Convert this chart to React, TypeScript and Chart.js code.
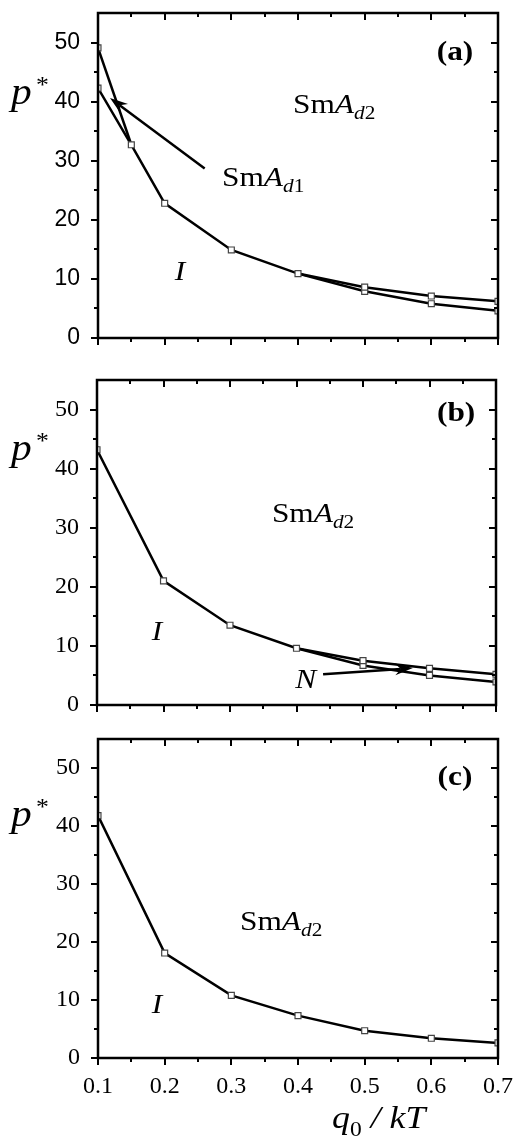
import React, { useEffect, useRef } from "react";
import { Chart, registerables } from "chart.js";

Chart.register(...registerables);

// Shared axis definitions
const xMin = 0.1;
const xMax = 0.7;
const yMin = 0;
const yMax = 55;
const xTickValues = [0.1, 0.2, 0.3, 0.4, 0.5, 0.6, 0.7];
const xTickLabels = ["0.1", "0.2", "0.3", "0.4", "0.5", "0.6", "0.7"];
const xMinorValues = [0.15, 0.25, 0.35, 0.45, 0.55, 0.65];
const yTickValues = [0, 10, 20, 30, 40, 50];
const yTickLabels = ["0", "10", "20", "30", "40", "50"];
const yMinorValues = [5, 15, 25, 35, 45];

// Panel (a): phase boundaries
const aMainX = [0.1, 0.15, 0.2, 0.3, 0.4, 0.5, 0.6, 0.7];
const aMainY = [42.3, 32.7, 22.8, 14.9, 10.9, 8.6, 7.1, 6.2];
const aUpperX = [0.1, 0.15];
const aUpperY = [49.1, 32.7];
const aLowerX = [0.4, 0.5, 0.6, 0.7];
const aLowerY = [10.9, 7.9, 5.8, 4.6];

// Panel (b): phase boundaries
const bMainX = [0.1, 0.2, 0.3, 0.4, 0.5, 0.6, 0.7];
const bMainY = [43.2, 21.0, 13.5, 9.6, 7.5, 6.2, 5.2];
const bLowerX = [0.4, 0.5, 0.6, 0.7];
const bLowerY = [9.6, 6.7, 5.0, 3.9];

// Panel (c): phase boundary
const cMainX = [0.1, 0.2, 0.3, 0.4, 0.5, 0.6, 0.7];
const cMainY = [41.8, 18.1, 10.8, 7.3, 4.7, 3.4, 2.6];

const W = 515;
const SERIF = "'Liberation Serif', 'Times New Roman', serif";
const SANS = "'Liberation Sans', Arial, sans-serif";
const SX = 1.12; // horizontal widening of the label lettering

type Series = { xs: number[]; ys: number[]; hidden: number[] };
type Note =
  | { kind: "tag"; text: string; x: number; y: number }
  | { kind: "phase"; sub: string; x: number; y: number }
  | { kind: "italic"; text: string; x: number; y: number }
  | { kind: "arrow"; x1: number; y1: number; x2: number; y2: number };

type PanelSpec = {
  top: number;
  height: number;
  area: { left: number; right: number; top: number; bottom: number };
  tickFamily: string;
  tickSize: number;
  showX: boolean;
  series: Series[];
  notes: Note[];
  yTitleAt: number;
};

function drawText(ctx: CanvasRenderingContext2D, text: string, x: number, y: number, font: string, align: CanvasTextAlign = "left", baseline: CanvasTextBaseline = "alphabetic") {
  ctx.save();
  ctx.font = font;
  ctx.textAlign = align;
  ctx.textBaseline = baseline;
  ctx.fillStyle = "#000";
  const w = ctx.measureText(text).width * SX;
  ctx.translate(x, y);
  ctx.scale(SX, 1);
  ctx.fillText(text, 0, 0);
  ctx.restore();
  return w;
}

function drawArrow(ctx: CanvasRenderingContext2D, x1: number, y1: number, x2: number, y2: number) {
  const a = Math.atan2(y2 - y1, x2 - x1);
  const c = Math.cos(a);
  const s = Math.sin(a);
  const len = 18;
  const half = 6;
  const notch = 12;
  ctx.save();
  ctx.strokeStyle = "#000";
  ctx.fillStyle = "#000";
  ctx.lineWidth = 2.5;
  ctx.beginPath();
  ctx.moveTo(x1, y1);
  ctx.lineTo(x2 - c * notch, y2 - s * notch);
  ctx.stroke();
  ctx.beginPath();
  ctx.moveTo(x2, y2);
  ctx.lineTo(x2 - c * len - s * half, y2 - s * len + c * half);
  ctx.lineTo(x2 - c * notch, y2 - s * notch);
  ctx.lineTo(x2 - c * len + s * half, y2 - s * len - c * half);
  ctx.closePath();
  ctx.fill();
  ctx.restore();
}

function makeDecor(spec: PanelSpec) {
  return {
    id: "frameAndNotes",
    afterDraw(chart: any) {
      const ctx: CanvasRenderingContext2D = chart.ctx;
      const { left, right, top, bottom } = chart.chartArea;
      const xs = chart.scales.x;
      const ys = chart.scales.y;
      ctx.save();
      ctx.strokeStyle = "#000";
      ctx.lineWidth = 2.5;
      ctx.strokeRect(left, top, right - left, bottom - top);
      ctx.lineWidth = 2;
      const major = 7;
      const minor = 4;
      ctx.beginPath();
      const yTick = (v: number, len: number) => {
        const y = Math.round(ys.getPixelForValue(v));
        ctx.moveTo(left - len, y);
        ctx.lineTo(left, y);
        ctx.moveTo(right - len, y);
        ctx.lineTo(right, y);
      };
      const xTick = (v: number, len: number) => {
        const x = Math.round(xs.getPixelForValue(v));
        ctx.moveTo(x, bottom);
        ctx.lineTo(x, bottom + len);
        ctx.moveTo(x, top);
        ctx.lineTo(x, top + len);
      };
      yTickValues.forEach((v) => yTick(v, major));
      yMinorValues.forEach((v) => yTick(v, minor));
      xTickValues.forEach((v) => xTick(v, major));
      xMinorValues.forEach((v) => xTick(v, minor));
      ctx.stroke();
      ctx.restore();

      // y axis title p*
      const pb = ys.getPixelForValue(spec.yTitleAt);
      drawText(ctx, "p", 11, pb, `italic 37px ${SERIF}`);
      drawText(ctx, "*", 36, pb - 12, `23px ${SERIF}`);

      spec.notes.forEach((n) => {
        if (n.kind === "arrow") {
          drawArrow(ctx, xs.getPixelForValue(n.x1), ys.getPixelForValue(n.y1), xs.getPixelForValue(n.x2), ys.getPixelForValue(n.y2));
          return;
        }
        const px = xs.getPixelForValue(n.x);
        const py = ys.getPixelForValue(n.y);
        if (n.kind === "tag") {
          drawText(ctx, n.text, px, py, `bold 28px ${SERIF}`, "center", "middle");
        } else if (n.kind === "italic") {
          drawText(ctx, n.text, px, py, `italic 28px ${SERIF}`, "center");
        } else if (n.kind === "phase") {
          let cx = px;
          cx += drawText(ctx, "Sm", cx, py, `28px ${SERIF}`);
          cx += drawText(ctx, "A", cx, py, `italic 28px ${SERIF}`);
          cx += drawText(ctx, "d", cx, py + 6, `italic 19px ${SERIF}`);
          drawText(ctx, n.sub, cx, py + 6, `19px ${SERIF}`);
        }
      });

      if (spec.showX) {
        const bx = 332;
        const bb = bottom + 70;
        let cx = bx;
        cx += drawText(ctx, "q", cx, bb, `italic 32px ${SERIF}`);
        cx += drawText(ctx, "0", cx, bb + 8, `21px ${SERIF}`);
        cx += drawText(ctx, " / ", cx, bb, `italic 32px ${SERIF}`);
        drawText(ctx, "kT", cx, bb, `italic 32px ${SERIF}`);
      }
    },
  };
}

function Panel({ spec }: { spec: PanelSpec }) {
  const ref = useRef<HTMLCanvasElement | null>(null);
  useEffect(() => {
    if (!ref.current) return;
    const { area, height } = spec;
    const tickFont = { family: spec.tickFamily, size: spec.tickSize };
    const chart = new Chart(ref.current, {
      type: "line",
      data: {
        datasets: spec.series.map((s) => ({
          data: s.xs.map((x, i) => ({ x, y: s.ys[i] })),
          borderColor: "#000",
          borderWidth: 2.5,
          tension: 0,
          fill: false,
          pointStyle: "rect",
          pointRadius: (c: any) => (s.hidden.includes(c.dataIndex) ? 0 : 4.2),
          pointBorderColor: "#444",
          pointBorderWidth: 1.2,
          pointBackgroundColor: "#fff",
        })),
      },
      options: {
        animation: false,
        responsive: false,
        maintainAspectRatio: false,
        devicePixelRatio: 1,
        events: [],
        layout: { padding: { left: 0, top: area.top, right: W - area.right, bottom: 0 } },
        plugins: { legend: { display: false }, tooltip: { enabled: false } },
        scales: {
          x: {
            type: "linear",
            min: xMin,
            max: xMax,
            grid: { display: false },
            border: { display: false },
            ticks: {
              display: spec.showX,
              font: { family: SERIF, size: 24 },
              color: "#000",
              padding: 6,
              maxRotation: 0,
              autoSkip: false,
              callback: (_v: any, i: number) => xTickLabels[i],
            },
            afterBuildTicks: (s: any) => {
              s.ticks = xTickValues.map((v) => ({ value: v }));
            },
            afterFit: (s: any) => {
              s.height = height - area.bottom;
              s.paddingLeft = 0;
              s.paddingRight = 0;
            },
          },
          y: {
            type: "linear",
            min: yMin,
            max: yMax,
            grid: { display: false },
            border: { display: false },
            ticks: {
              font: tickFont,
              color: "#000",
              padding: 10,
              callback: (_v: any, i: number) => yTickLabels[i],
            },
            afterBuildTicks: (s: any) => {
              s.ticks = yTickValues.map((v) => ({ value: v }));
            },
            afterFit: (s: any) => {
              s.width = area.left;
              s.paddingTop = 0;
              s.paddingBottom = 0;
            },
          },
        },
      } as any,
      plugins: [makeDecor(spec)],
    });
    return () => chart.destroy();
  }, [spec]);
  return (
    <canvas
      ref={ref}
      width={W}
      height={spec.height}
      style={{ position: "absolute", left: 0, top: spec.top, width: W, height: spec.height, display: "block" }}
    />
  );
}

const panels: PanelSpec[] = [
  {
    top: 0,
    height: 360,
    area: { left: 98, right: 498, top: 13, bottom: 338 },
    tickFamily: SANS,
    tickSize: 23,
    showX: false,
    series: [
      { xs: aMainX, ys: aMainY, hidden: [] },
      { xs: aUpperX, ys: aUpperY, hidden: [1] },
      { xs: aLowerX, ys: aLowerY, hidden: [0] },
    ],
    notes: [
      { kind: "tag", text: "(a)", x: 0.6355, y: 48.2 },
      { kind: "phase", sub: "2", x: 0.3925, y: 38.1 },
      { kind: "phase", sub: "1", x: 0.286, y: 25.8 },
      { kind: "italic", text: "I", x: 0.223, y: 9.8 },
      { kind: "arrow", x1: 0.26, y1: 28.7, x2: 0.118, y2: 40.6 },
    ],
    yTitleAt: 39.6,
  },
  {
    top: 360,
    height: 360,
    area: { left: 97, right: 496, top: 20, bottom: 345 },
    tickFamily: SERIF,
    tickSize: 24,
    showX: false,
    series: [
      { xs: bMainX, ys: bMainY, hidden: [] },
      { xs: bLowerX, ys: bLowerY, hidden: [0] },
    ],
    notes: [
      { kind: "tag", text: "(b)", x: 0.64, y: 49.3 },
      { kind: "phase", sub: "2", x: 0.363, y: 31.0 },
      { kind: "italic", text: "I", x: 0.19, y: 11.0 },
      { kind: "italic", text: "N", x: 0.414, y: 2.9 },
      { kind: "arrow", x1: 0.44, y1: 5.2, x2: 0.575, y2: 6.25 },
    ],
    yTitleAt: 41.4,
  },
  {
    top: 720,
    height: 418,
    area: { left: 98, right: 498, top: 19, bottom: 338 },
    tickFamily: SERIF,
    tickSize: 24,
    showX: true,
    series: [{ xs: cMainX, ys: cMainY, hidden: [] }],
    notes: [
      { kind: "tag", text: "(c)", x: 0.6355, y: 48.3 },
      { kind: "phase", sub: "2", x: 0.313, y: 22.1 },
      { kind: "italic", text: "I", x: 0.1885, y: 7.8 },
    ],
    yTitleAt: 40,
  },
];

export default function App() {
  return (
    <div style={{ position: "absolute", left: 0, top: 0, width: W, height: 1138, background: "#fff", overflow: "hidden" }}>
      {panels.map((p, i) => (
        <Panel key={i} spec={p} />
      ))}
    </div>
  );
}
